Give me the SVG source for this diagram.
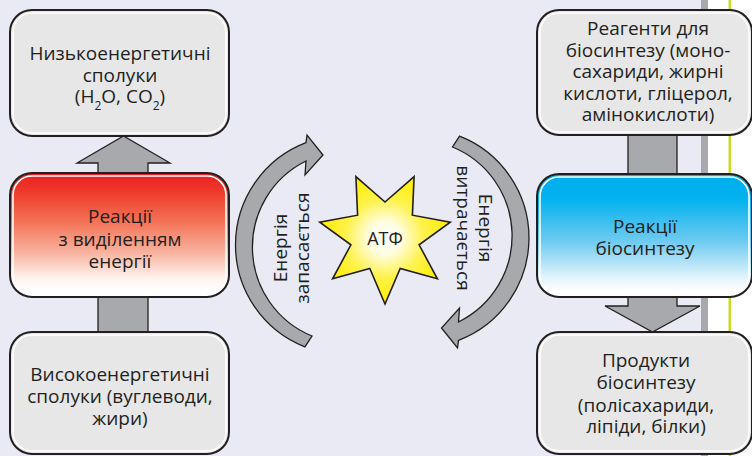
<svg xmlns="http://www.w3.org/2000/svg" width="752" height="456" viewBox="0 0 752 456">
<style>
.bx{stroke:#231F20;stroke-width:2}
.gray{fill:#E7E7E8}
.hl{fill:none;stroke:#FFFFFF;stroke-width:1.6}
.arr{fill:#A7A9AC;stroke:#231F20;stroke-width:1.3;stroke-linejoin:miter}
.t{font-family:"Open Sans","Noto Sans",sans-serif;font-size:19px;fill:#231F20;text-anchor:middle}
.sub{font-size:12px}
</style>
<defs>
<linearGradient id="red" x1="0" y1="0" x2="0" y2="1">
<stop offset="0" stop-color="#ED1C24"/>
<stop offset="0.15" stop-color="#EE3A2A"/>
<stop offset="0.4" stop-color="#F37458"/>
<stop offset="0.65" stop-color="#F8B5A2"/>
<stop offset="0.85" stop-color="#FFF3EE"/>
<stop offset="0.95" stop-color="#FFFFFF"/>
</linearGradient>
<linearGradient id="blue" x1="0" y1="0" x2="0" y2="1">
<stop offset="0" stop-color="#00AEEF"/>
<stop offset="0.2" stop-color="#00B2EE"/>
<stop offset="0.55" stop-color="#6FCBF1"/>
<stop offset="0.85" stop-color="#E5F5FC"/>
<stop offset="0.95" stop-color="#FFFFFF"/>
</linearGradient>
<radialGradient id="star" gradientUnits="userSpaceOnUse" cx="385" cy="238" r="66">
<stop offset="0" stop-color="#FFFFFF"/>
<stop offset="0.25" stop-color="#FFFDE0"/>
<stop offset="0.6" stop-color="#FFF24A"/>
<stop offset="1" stop-color="#FFED00"/>
</radialGradient>
</defs>
<rect x="0" y="0" width="752" height="456" fill="#E9EAF4"/>
<rect x="701" y="0" width="7" height="456" fill="#A7A9AC"/>
<rect x="708" y="0" width="44" height="456" fill="#FFFFFF"/>
<rect x="728.5" y="0" width="2.5" height="456" fill="#C9DA2A"/>

<g id="connectors">
<path id="arrow-up" class="arr" d="M98,340 L98,163 L77,163 L123.5,136 L170,163 L148,163 L148,340 Z"/>
<path id="arrow-down" class="arr" d="M628,130 L628,306 L605,306 L652.5,332 L700,306 L677,306 L677,130 Z"/>
<path id="arc-left" class="arr" d="M304.9,346.9 A109.5,109.5 0 0 1 306,142.7 L307,135 L323,155 L305,175 L306,161 A96.04,96.04 0 0 0 312,336 Z"/>
<path id="arc-right" class="arr" transform="rotate(180 382.25 241.5)" d="M304.9,346.9 A109.5,109.5 0 0 1 306,142.7 L307,135 L323,155 L305,175 L306,161 A96.04,96.04 0 0 0 312,336 Z"/>
<text class="t" transform="translate(287,248) rotate(-90)">Енергія</text>
<text class="t" transform="translate(309,248) rotate(-90)">запасається</text>
<text class="t" transform="translate(479,228) rotate(90)">Енергія</text>
<text class="t" transform="translate(457,228) rotate(90)">витрачається</text>
</g>

<g id="atp">
<path d="M385,304 L369.8,268.5 L332.6,278.8 L350.9,244.8 L319.7,222.1 L357.6,215.2 L355.9,176.6 L385,202 L414.1,176.6 L412.4,215.2 L450.3,222.1 L419.1,244.8 L437.4,278.8 L400.2,268.5 Z" fill="url(#star)" stroke="#231F20" stroke-width="1.6" stroke-linejoin="miter"/>
<text class="t" x="385" y="244.5" style="font-size:18px">АТФ</text>
</g>

<g id="low-energy">
<rect class="bx gray" x="10" y="10" width="219" height="126" rx="22"/>
<rect class="hl" x="13" y="13" width="213" height="120" rx="19"/>
<text class="t" x="120" y="60">Низькоенергетичні</text>
<text class="t" x="120" y="82">сполуки</text>
<text class="t" x="120" y="103">(H<tspan class="sub" dy="7">2</tspan><tspan dy="-7">O, CO</tspan><tspan class="sub" dy="7">2</tspan><tspan dy="-7">)</tspan></text>
</g>

<g id="energy-release">
<rect class="bx" fill="url(#red)" x="10" y="173" width="219" height="124" rx="22"/>
<rect class="hl" x="13" y="176" width="213" height="118" rx="19"/>
<text class="t" x="120" y="223">Реакції</text>
<text class="t" x="120" y="245.5">з виділенням</text>
<text class="t" x="120" y="268">енергії</text>
</g>

<g id="high-energy">
<rect class="bx gray" x="10" y="332" width="219" height="122" rx="22"/>
<rect class="hl" x="13" y="335" width="213" height="116" rx="19"/>
<text class="t" x="120" y="381">Високоенергетичні</text>
<text class="t" x="120" y="403">сполуки (вуглеводи,</text>
<text class="t" x="120" y="425">жири)</text>
</g>

<g id="reagents">
<rect class="bx gray" x="537" y="10" width="215" height="125" rx="22"/>
<rect class="hl" x="540" y="13" width="209" height="119" rx="19"/>
<text class="t" x="648" y="35">Реагенти для</text>
<text class="t" x="648" y="56.5">біосинтезу (моно-</text>
<text class="t" x="648" y="78">сахариди, жирні</text>
<text class="t" x="648" y="99.5">кислоти, гліцерол,</text>
<text class="t" x="648" y="121">амінокислоти)</text>
</g>

<g id="biosynthesis">
<rect class="bx" fill="url(#blue)" x="537" y="174" width="215" height="123" rx="22"/>
<rect class="hl" x="540" y="177" width="209" height="117" rx="19"/>
<text class="t" x="645" y="233">Реакції</text>
<text class="t" x="645" y="255">біосинтезу</text>
</g>

<g id="products">
<rect class="bx gray" x="537" y="332" width="215" height="122" rx="22"/>
<rect class="hl" x="540" y="335" width="209" height="116" rx="19"/>
<text class="t" x="646" y="366.5">Продукти</text>
<text class="t" x="646" y="389">біосинтезу</text>
<text class="t" x="646" y="411.5">(полісахариди,</text>
<text class="t" x="646" y="433">ліпіди, білки)</text>
</g>
</svg>
